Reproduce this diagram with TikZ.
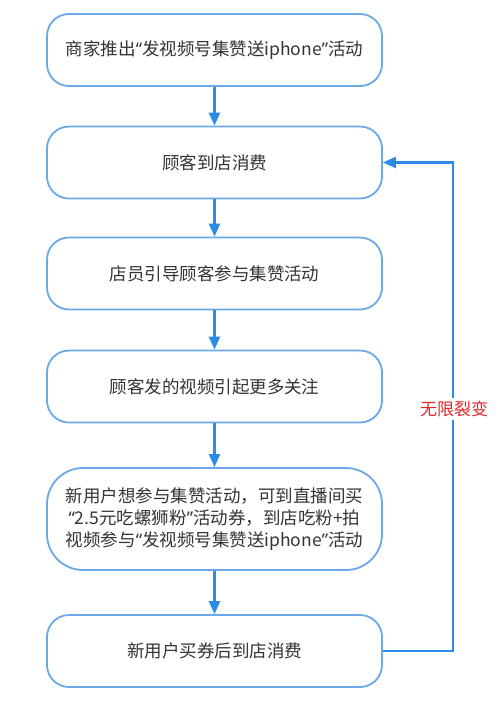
\documentclass[tikz,border=0pt]{standalone}
\usepackage{fontspec}
\setmainfont{Noto Sans CJK SC}
\newfontfamily\latin{Noto Sans}
\newcommand{\qopen}{{\latin “}}
\newcommand{\qclose}{{\latin ”}}
\usepackage{tikz}
\usepackage{xcolor}
\usetikzlibrary{arrows.meta,positioning}
\definecolor{Frame}{HTML}{6AA8E6}
\definecolor{Flow}{HTML}{2B8BE6}
\definecolor{Ink}{HTML}{333333}
\definecolor{Alert}{HTML}{E0282A}
\tikzset{
  stage/.style={draw=Frame,line width=1.8pt,rounded corners=22pt,
    minimum width=335pt,minimum height=72pt,align=center,text=Ink,
    font=\fontsize{17.5}{22}\selectfont},
  flow/.style={Flow,line width=2.2pt,-{Triangle[length=13pt,width=11pt]}}
}
\begin{document}
\begin{tikzpicture}[x=1pt,y=-1pt]
  \useasboundingbox (0,0) rectangle (500,718);
  \node[stage] (launch) at (214.5,50) {商家推出\qopen 发视频号集赞送iphone\qclose 活动};
  \node[stage] (visit) at (214.5,162.5) {顾客到店消费};
  \node[stage] (guide) at (214.5,273.5) {店员引导顾客参与集赞活动};
  \node[stage] (video) at (214.5,386.5) {顾客发的视频引起更多关注};
  \node[stage,minimum height=102pt,rounded corners=36pt] (join) at (214.5,519)
    {新用户想参与集赞活动，可到直播间买\\\qopen 2.5元吃螺狮粉\qclose 活动券，到店吃粉+拍\\视频参与\qopen 发视频号集赞送iphone\qclose 活动};
  \node[stage] (buy) at (214.5,651) {新用户买券后到店消费};
  \coordinate (loopbot) at (453,651);
  \coordinate (looptop) at (453,162.5);
  \foreach \a/\b in {launch/visit,visit/guide,guide/video,video/join,join/buy} {
    \draw[flow] (\a) -- (\b);
  }
  % loop back
  \draw[flow] (buy.east) -- (loopbot) -- (looptop) -- (visit.east);
  \node[fill=white,text=Alert,inner sep=3pt,font=\fontsize{17}{20}\selectfont] (grow) at (454,409) {无限裂变};
\end{tikzpicture}
\end{document}
